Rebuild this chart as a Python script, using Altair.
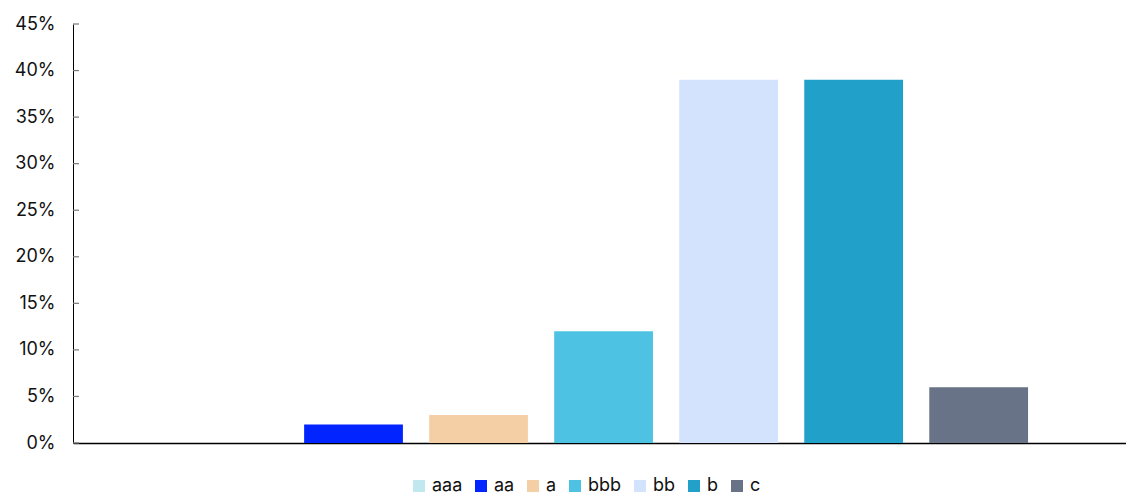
import altair as alt
import pandas as pd

categories = ["aaa", "aa", "a", "bbb", "bb", "b", "c"]
values = [0.0, 0.02, 0.03, 0.12, 0.39, 0.39, 0.06]
colors = ["#c2e8ef", "#0224ff", "#f4cfa6", "#4dc2e3", "#d3e2fd", "#21a1c9", "#687388"]
tick_values = [0, 0.05, 0.10, 0.15, 0.20, 0.25, 0.30, 0.35, 0.40, 0.45]

df = pd.DataFrame({"cat": categories, "val": values})
ticks_df = pd.DataFrame({"t": tick_values})

FONT = "Inter"

yscale = alt.Scale(domain=[0, 0.45], nice=False)
yaxis = alt.Axis(title=None, format=".0%", values=tick_values,
                 ticks=False, grid=False, domainColor="#000000",
                 domainWidth=1, labelFontSize=18, labelFont=FONT,
                 labelColor="#111111", labelPadding=18)

bars = alt.Chart(df).mark_bar().encode(
    x=alt.X("cat:N", sort=categories,
            scale=alt.Scale(paddingInner=0.21, paddingOuter=0.816, align=0.52),
            axis=alt.Axis(title=None, labels=False, ticks=False, grid=False,
                          domainColor="#000000", domainWidth=1.5)),
    y=alt.Y("val:Q", scale=yscale, axis=yaxis),
    color=alt.Color("cat:N", sort=categories,
                    scale=alt.Scale(domain=categories, range=colors),
                    legend=alt.Legend(title=None, orient="none", direction="horizontal",
                                      legendX=337, legendY=453,
                                      symbolType="square", symbolSize=144,
                                      symbolStrokeWidth=0,
                                      labelFontSize=18, labelFont=FONT,
                                      labelColor="#111111", columnPadding=9,
                                      symbolOffset=0, labelOffset=4)),
)

tick_marks = alt.Chart(ticks_df).mark_rule(color="#777777", strokeWidth=1.2).encode(
    y=alt.Y("t:Q", scale=yscale, axis=yaxis),
    x=alt.value(0),
    x2=alt.value(6),
)

chart = alt.layer(bars, tick_marks).properties(
    width=1053, height=419,
    autosize=alt.AutoSizeParams(type="none"),
    padding={"left": 73, "top": 24, "right": 0, "bottom": 51},
).configure(font=FONT).configure_view(strokeWidth=0, stroke="transparent").configure_axis(grid=False)

chart.save("out.html", embed_options={"renderer": "svg", "actions": False})
